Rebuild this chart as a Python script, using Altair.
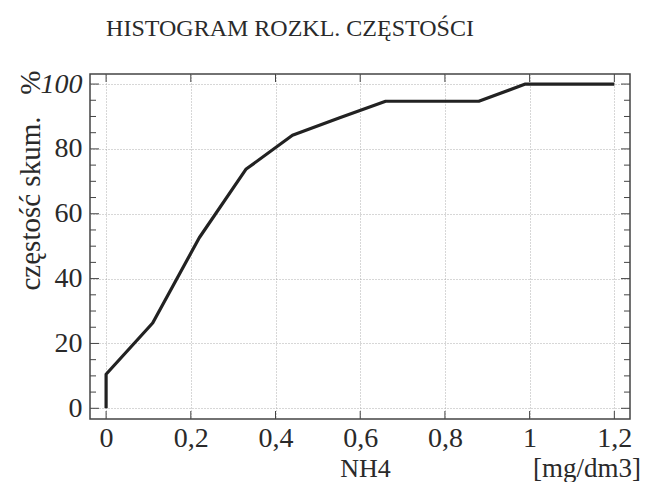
import altair as alt
import pandas as pd

# ---- data ----
nh4 = [0, 0, 0.11, 0.22, 0.33, 0.44, 0.55, 0.66, 0.77, 0.88, 0.99, 1.10, 1.20]
cum_pct = [0, 10.5, 26.3, 52.6, 73.7, 84.2, 89.5, 94.7, 94.7, 94.7, 100, 100, 100]
x_ticks = [0, 0.2, 0.4, 0.6, 0.8, 1.0, 1.2]
y_ticks = [0, 20, 40, 60, 80, 100]
y_minor = [5, 10, 15, 25, 30, 35, 45, 50, 55, 65, 70, 75, 85, 90, 95]
title_text = "HISTOGRAM ROZKL. CZĘSTOŚCI"
y_title = "częstość skum.\u00a0\u00a0\u00a0%"
x_title = "NH4"
unit_text = "[mg/dm3]"

W, H = 540, 345
FONT = "Liberation Serif"
FRAME = "#444"
TXT = "#2a2a2a"

df = pd.DataFrame({"x": nh4, "y": cum_pct, "i": list(range(len(nh4)))})
xs = alt.Scale(domain=[-0.038, 1.237], nice=False, zero=False)
ys = alt.Scale(domain=[-3.3, 103.1], nice=False, zero=False)

line = alt.Chart(df).mark_line(color="#222", strokeWidth=3.2, strokeJoin="round").encode(
    x=alt.X("x:Q", scale=xs, axis=alt.Axis(
        values=x_ticks, grid=True, gridDash=[1, 2], gridColor="#999", gridWidth=0.8,
        ticks=False, domain=False, labelFont=FONT, labelFontSize=28, labelColor=TXT,
        labelPadding=5, labelExpr="replace(format(datum.value, '~g'), '.', ',')",
        title=x_title, titleFont=FONT, titleFontSize=26, titleFontWeight="normal",
        titleColor=TXT, titleX=275, titleY=57, titleAlign="center",
        titleBaseline="alphabetic")),
    y=alt.Y("y:Q", scale=ys, axis=alt.Axis(
        values=y_ticks, grid=True, gridDash=[1, 2], gridColor="#999", gridWidth=0.8,
        ticks=False, domain=False, labelFont=FONT, labelFontSize=28, labelColor=TXT,
        labelPadding=8,
        labelFontStyle={"expr": "datum.value == 100 ? 'italic' : 'normal'"},
        title=y_title, titleFont=FONT, titleFontSize=29, titleFontWeight="normal",
        titleColor=TXT, titleAngle=270, titleX=-60, titleY=216, titleAlign="left",
        titleBaseline="middle")),
    order="i:Q",
)

xt = pd.DataFrame({"x": x_ticks})
ymaj = pd.DataFrame({"y": y_ticks})
ymin = pd.DataFrame({"y": y_minor})

def xrule(y1, y2):
    return alt.Chart(xt).mark_rule(color=FRAME, strokeWidth=1).encode(
        x=alt.X("x:Q", scale=xs), y=alt.value(y1), y2=alt.value(y2))

def yrule(data, x1, x2):
    return alt.Chart(data).mark_rule(color=FRAME, strokeWidth=1).encode(
        y=alt.Y("y:Q", scale=ys), x=alt.value(x1), x2=alt.value(x2))

ticks = [
    xrule(H, H - 8), xrule(0, 8),
    yrule(ymaj, 0, 9), yrule(ymaj, W, W - 9),
    yrule(ymin, 0, 6), yrule(ymin, W, W - 6),
]

unit = alt.Chart(pd.DataFrame({"t": [unit_text]})).mark_text(
    align="right", baseline="alphabetic", font=FONT, fontSize=27, color=TXT
).encode(x=alt.value(551), y=alt.value(403), text="t:N")

chart = alt.layer(line, *ticks, unit).properties(
    width=W, height=H,
    padding={"left": 82, "top": 66, "right": 11, "bottom": 63},
    autosize=alt.AutoSizeParams(type="none"),
    title=alt.TitleParams(title_text, font=FONT, fontSize=24, fontWeight="normal",
                          color=TXT, anchor="middle", dx=-70, offset=10,
                          baseline="alphabetic"),
).configure_view(stroke=FRAME, strokeWidth=1.5)

chart.save("out.html", embed_options={"renderer": "svg", "actions": False})
